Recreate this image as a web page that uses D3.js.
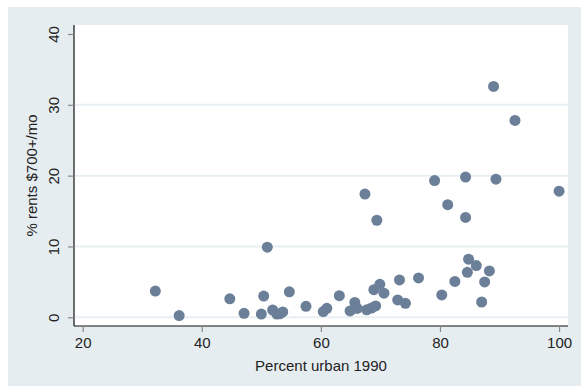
<!DOCTYPE html>
<html>
<head>
<meta charset="utf-8">
<script src="https://cdn.jsdelivr.net/npm/d3@7"></script>
<style>
  body { margin: 0; background: #fff; }
  text { font-family: "Liberation Sans", Arial, sans-serif; fill: #222; }
</style>
</head>
<body>
<div id="chart"></div>
<script>
// percent urban 1990 vs % of rents $700+/mo, one point per state
let urban = [32.2, 36.2, 44.7, 47.1, 50.0, 50.4, 51.0, 51.9, 52.6, 53.1, 53.6, 54.7,
             57.5, 60.4, 61.0, 63.1, 64.9, 65.7, 66.1, 67.7, 68.5, 69.2, 68.9, 69.9,
             70.6, 72.9, 73.2, 74.2, 76.4, 80.3, 82.5, 84.6, 84.8, 86.1, 87.0, 87.5,
             88.3, 89.0, 92.6, 79.1, 84.3, 89.4, 100.0, 67.4, 81.3, 84.3, 69.4];
let rents = [3.7, 0.25, 2.6, 0.56, 0.45, 3.0, 9.9, 1.03, 0.45, 0.5, 0.75, 3.6,
             1.55, 0.8, 1.27, 3.05, 0.9, 2.1, 1.25, 1.05, 1.3, 1.6, 3.9, 4.65,
             3.4, 2.45, 5.27, 1.98, 5.55, 3.15, 5.07, 6.35, 8.2, 7.3, 2.16, 4.99,
             6.55, 32.6, 27.8, 19.3, 19.8, 19.5, 17.8, 17.4, 15.9, 14.1, 13.7];
let xTicks = [20, 40, 60, 80, 100];
let yTicks = [0, 10, 20, 30, 40];

let width = 581, height = 386;
let plot = {left: 74, right: 568, top: 25, bottom: 326};

let svg = d3.select("#chart").append("svg")
  .attr("width", width)
  .attr("height", height);

// outer graph region
svg.append("rect")
  .attr("x", 8).attr("y", 7)
  .attr("width", width - 8).attr("height", height - 7)
  .attr("fill", "#e6edf1");

svg.append("rect")
  .attr("x", plot.left).attr("y", plot.top)
  .attr("width", plot.right - plot.left).attr("height", plot.bottom - plot.top)
  .attr("fill", "#fff");

let x = d3.scaleLinear()
  .domain([18.54, 101.5])
  .range([plot.left, plot.right]);

let y = d3.scaleLinear()
  .domain([-1.23, 41.27])
  .range([plot.bottom, plot.top]);

// grid lines
svg.append("g").selectAll("line")
  .data(yTicks.slice(0, 4))
  .enter().append("line")
  .attr("x1", plot.left).attr("x2", plot.right)
  .attr("y1", d => y(d)).attr("y2", d => y(d))
  .attr("stroke", "#e8eff2")
  .attr("stroke-width", 2);

// axes
let xAxis = svg.append("g")
  .attr("transform", "translate(0," + plot.bottom + ")")
  .call(d3.axisBottom(x).tickValues(xTicks).tickSize(6).tickFormat(d3.format("d")));

let yAxis = svg.append("g")
  .attr("transform", "translate(" + plot.left + ",0)")
  .call(d3.axisLeft(y).tickValues(yTicks).tickSize(6).tickFormat(d3.format("d")));

[xAxis, yAxis].forEach(function(a) {
  a.select(".domain").attr("stroke", "#111").attr("stroke-width", 1.2);
  a.selectAll(".tick line").attr("stroke", "#888").attr("stroke-width", 1.2);
  a.selectAll(".tick text").style("font-size", "15px").attr("fill", "#222")
    .style("font-family", "'Liberation Sans', Arial, sans-serif");
});
// the domain path draws outer ticks; keep it a straight line
xAxis.select(".domain").attr("d", "M" + plot.left + ",0H" + plot.right);
yAxis.select(".domain").attr("d", "M0," + plot.bottom + "V" + plot.top);

xAxis.selectAll(".tick text").attr("y", 22).attr("dy", null);

yAxis.selectAll(".tick text")
  .attr("x", null).attr("dy", null)
  .attr("text-anchor", "middle")
  .attr("transform", "translate(-15,0) rotate(-90)");

// titles
svg.append("text")
  .attr("x", (plot.left + plot.right) / 2)
  .attr("y", 371)
  .attr("text-anchor", "middle")
  .style("font-size", "15px")
  .text("Percent urban 1990");

svg.append("text")
  .attr("transform", "translate(37," + (plot.top + plot.bottom) / 2 + ") rotate(-90)")
  .attr("text-anchor", "middle")
  .style("font-size", "15px")
  .text("% rents $700+/mo");

// points
svg.append("g").selectAll("circle")
  .data(urban)
  .enter().append("circle")
  .attr("cx", d => x(d))
  .attr("cy", (d, i) => y(rents[i]))
  .attr("r", 5.5)
  .attr("fill", "#6b7f98");
</script>
</body>
</html>
